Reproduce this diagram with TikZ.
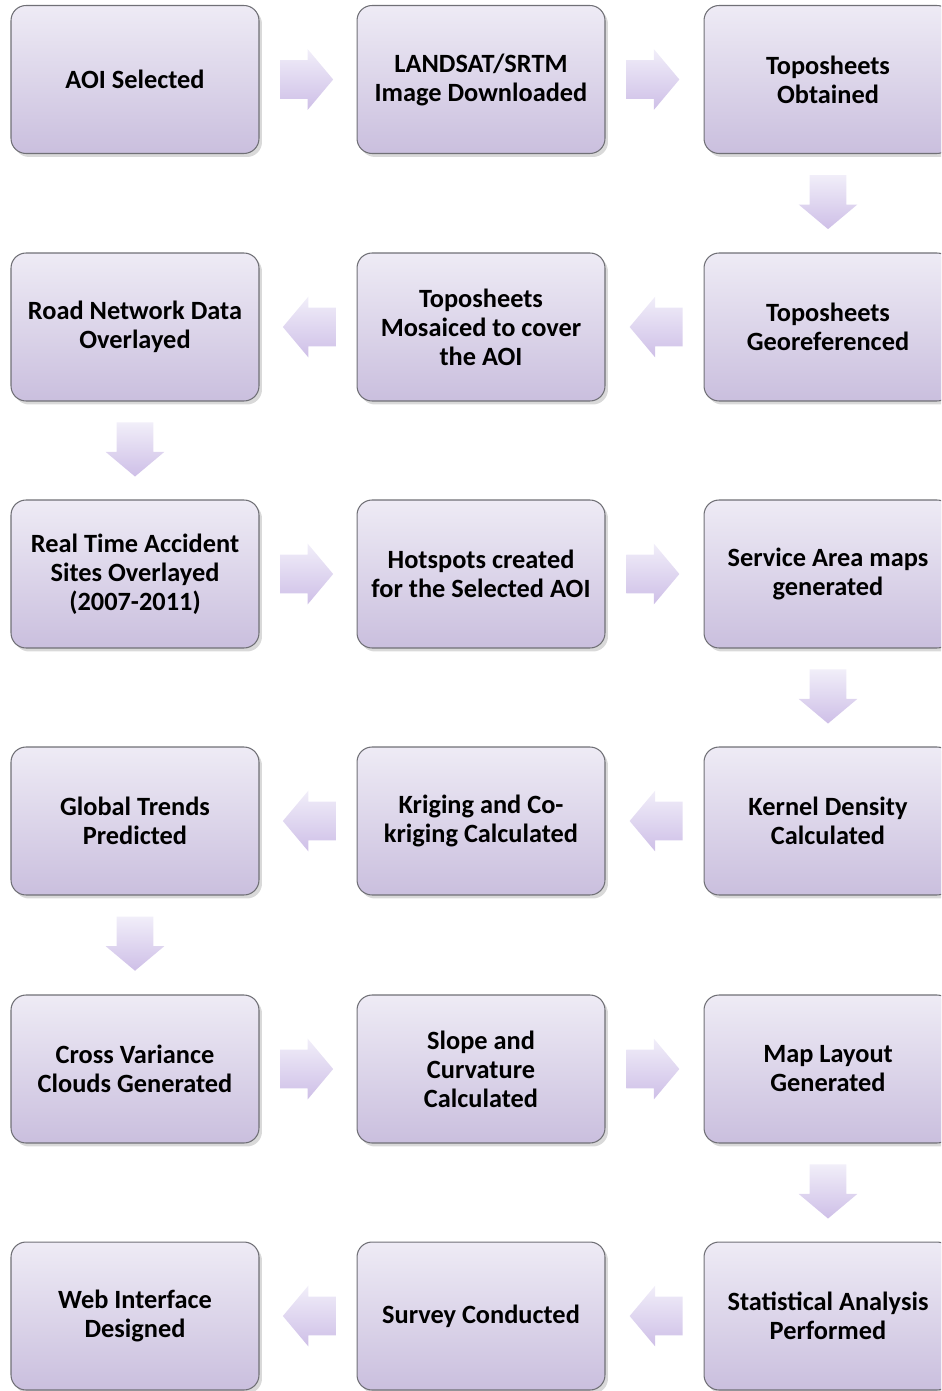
\documentclass[tikz,border=0pt]{standalone}
\usepackage{fontspec}
\setmainfont{Carlito}
\usepackage{xcolor}
\usepackage{tikz}
\usetikzlibrary{positioning,calc,shapes.arrows,shadows}
\definecolor{boxtop}{RGB}{238,235,245}
\definecolor{boxbottom}{RGB}{202,191,222}
\definecolor{boxline}{RGB}{112,112,118}
\definecolor{arrowtop}{RGB}{241,238,249}
\definecolor{arrowbottom}{RGB}{206,191,231}

\begin{document}
\begin{tikzpicture}[x=0.02cm, y=-0.02cm, stage/.style={draw=boxline, line width=0.6pt, rounded corners=0.3cm, top color=boxtop, bottom color=boxbottom, minimum width=4.96cm, minimum height=2.96cm, inner sep=2pt, align=center, font=\fontsize{15}{16.5}\selectfont\bfseries, drop shadow={opacity=0.3, shadow xshift=0.6mm, shadow yshift=-0.7mm}}, flow/.style={single arrow, draw=none, top color=arrowtop, bottom color=arrowbottom, inner xsep=0.36cm, inner ysep=0.38cm, minimum width=0pt, minimum height=0pt, single arrow head extend=0.22cm, single arrow tip angle=100, anchor=tail}]
\useasboundingbox (0,0) rectangle (941,1391);
\clip (0,0) rectangle (941,1391);
% row 1
\node[stage] (aoi) at (135,79.5) {AOI Selected};
\node[stage] (landsat) at (481,79.5) {LANDSAT/SRTM\\Image Downloaded};
\node[stage] (obtained) at (828,79.5) {Toposheets\\Obtained};
% row 2
\node[stage] (georef) at (828,327) {Toposheets\\Georeferenced};
\node[stage] (mosaic) at (481,327) {Toposheets\\Mosaiced to cover\\the AOI};
\node[stage] (roadnet) at (135,327) {Road Network Data\\Overlayed};
% row 3
\node[stage] (accident) at (135,574) {Real Time Accident\\Sites Overlayed\\(2007-2011)};
\node[stage] (hotspot) at (481,574) {Hotspots created\\for the Selected AOI};
\node[stage] (service) at (828,574) {Service Area maps\\generated};
% row 4
\node[stage] (kernel) at (828,821) {Kernel Density\\Calculated};
\node[stage] (kriging) at (481,821) {Kriging and Co-\\kriging Calculated};
\node[stage] (trends) at (135,821) {Global Trends\\Predicted};
% row 5
\node[stage] (crossvar) at (135,1069) {Cross Variance\\Clouds Generated};
\node[stage] (slope) at (481,1069) {Slope and\\Curvature\\Calculated};
\node[stage] (layout) at (828,1069) {Map Layout\\Generated};
% row 6
\node[stage] (stats) at (828,1316) {Statistical Analysis\\Performed};
\node[stage] (survey) at (481,1316) {Survey Conducted};
\node[stage] (webui) at (135,1316) {Web Interface\\Designed};
% block arrows between the stages, tail placed just after the source box
\node[flow] (f1) at ($(aoi.east)!0.21!(landsat.west)$) {};
\node[flow] (f2) at ($(landsat.east)!0.21!(obtained.west)$) {};
\node[flow, shape border rotate=270] (f3) at ($(obtained.south)!0.21!(georef.north)$) {};
\node[flow, shape border rotate=180] (f4) at ($(georef.west)!0.21!(mosaic.east)$) {};
\node[flow, shape border rotate=180] (f5) at ($(mosaic.west)!0.21!(roadnet.east)$) {};
\node[flow, shape border rotate=270] (f6) at ($(roadnet.south)!0.21!(accident.north)$) {};
\node[flow] (f7) at ($(accident.east)!0.21!(hotspot.west)$) {};
\node[flow] (f8) at ($(hotspot.east)!0.21!(service.west)$) {};
\node[flow, shape border rotate=270] (f9) at ($(service.south)!0.21!(kernel.north)$) {};
\node[flow, shape border rotate=180] (f10) at ($(kernel.west)!0.21!(kriging.east)$) {};
\node[flow, shape border rotate=180] (f11) at ($(kriging.west)!0.21!(trends.east)$) {};
\node[flow, shape border rotate=270] (f12) at ($(trends.south)!0.21!(crossvar.north)$) {};
\node[flow] (f13) at ($(crossvar.east)!0.21!(slope.west)$) {};
\node[flow] (f14) at ($(slope.east)!0.21!(layout.west)$) {};
\node[flow, shape border rotate=270] (f15) at ($(layout.south)!0.21!(stats.north)$) {};
\node[flow, shape border rotate=180] (f16) at ($(stats.west)!0.21!(survey.east)$) {};
\node[flow, shape border rotate=180] (f17) at ($(survey.west)!0.21!(webui.east)$) {};
\end{tikzpicture}
\end{document}
